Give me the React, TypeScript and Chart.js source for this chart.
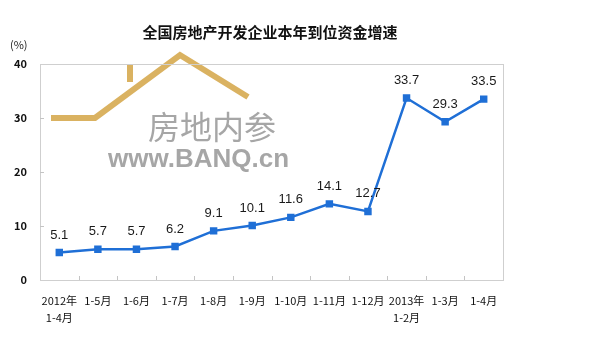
import React, { useEffect, useRef } from "react";
import { Chart, registerables } from "chart.js";

Chart.register(...registerables);

const categories: (string | string[])[] = [
  ["2012年", "1-4月"], "1-5月", "1-6月", "1-7月", "1-8月", "1-9月",
  "1-10月", "1-11月", "1-12月", ["2013年", "1-2月"], "1-3月", "1-4月",
];
const growth: number[] = [5.1, 5.7, 5.7, 6.2, 9.1, 10.1, 11.6, 14.1, 12.7, 33.7, 29.3, 33.5];
const yTicks: number[] = [0, 10, 20, 30, 40];
const titleText = "全国房地产开发企业本年到位资金增速";
const unitText = "(%)";

const FONT = "'Noto Sans CJK SC', 'Noto Sans', sans-serif";

export default function App() {
  const ref = useRef<HTMLCanvasElement | null>(null);
  useEffect(() => {
    document.body.style.margin = "0";
    const canvas = ref.current!;
    const decor = {
      id: "decor",
      beforeDatasetsDraw(chart: any) {
        const { ctx } = chart;
        ctx.save();
        // watermark house
        ctx.strokeStyle = "rgba(214,170,80,0.9)";
        ctx.lineWidth = 6;
        ctx.lineJoin = "miter";
        ctx.beginPath();
        ctx.moveTo(51, 118);
        ctx.lineTo(95, 118);
        ctx.lineTo(180, 55);
        ctx.lineTo(248, 97);
        ctx.stroke();
        ctx.beginPath();
        ctx.moveTo(130, 65);
        ctx.lineTo(130, 82);
        ctx.stroke();
        ctx.fillStyle = "rgba(150,150,150,0.85)";
        ctx.font = `32px ${FONT}`;
        ctx.textAlign = "left";
        ctx.textBaseline = "middle";
        ctx.fillText("房地内参", 148, 127);
        ctx.font = `bold 26px Arial, 'Liberation Sans', sans-serif`;
        ctx.fillText("www.BANQ.cn", 108, 160);
        ctx.restore();
      },
      afterDraw(chart: any) {
        const { ctx, chartArea: a, scales } = chart;
        ctx.save();
        ctx.strokeStyle = "#cfcfcf";
        ctx.lineWidth = 1;
        ctx.strokeRect(a.left + 0.5, a.top + 0.5, a.right - a.left, a.bottom - a.top);
        // inward tick marks
        ctx.strokeStyle = "#c4c4c4";
        const xs = scales.x;
        const half = (xs.getPixelForValue(1) - xs.getPixelForValue(0)) / 2;
        ctx.beginPath();
        for (let i = 0; i < categories.length - 1; i++) {
          const px = Math.round(xs.getPixelForValue(i) + half) + 0.5;
          ctx.moveTo(px, a.bottom);
          ctx.lineTo(px, a.bottom - 4);
        }
        const ys = scales.y;
        yTicks.slice(1, -1).forEach((v) => {
          const py = Math.round(ys.getPixelForValue(v)) + 0.5;
          ctx.moveTo(a.left, py);
          ctx.lineTo(a.left + 4, py);
        });
        ctx.stroke();
        // y tick labels
        ctx.fillStyle = "#111";
        ctx.font = `bold 11px ${FONT}`;
        ctx.textAlign = "right";
        ctx.textBaseline = "middle";
        yTicks.forEach((v) => {
          ctx.fillText(String(v), a.left - 13, ys.getPixelForValue(v));
        });
        ctx.font = `bold 15px ${FONT}`;
        ctx.textAlign = "center";
        ctx.fillText(titleText, 270, 32);
        ctx.font = `11px ${FONT}`;
        ctx.fillStyle = "#222";
        ctx.textAlign = "left";
        ctx.fillText(unitText, 10, 45);
        // data labels
        const meta = chart.getDatasetMeta(0);
        ctx.font = `13px Arial, 'Liberation Sans', sans-serif`;
        ctx.textAlign = "center";
        ctx.textBaseline = "bottom";
        ctx.fillStyle = "#1a1a1a";
        meta.data.forEach((pt: any, i: number) => {
          ctx.fillText(growth[i].toFixed(1), pt.x, pt.y - 11);
        });
        ctx.restore();
      },
    };
    const chart = new Chart(canvas, {
      type: "line",
      data: {
        labels: categories,
        datasets: [
          {
            data: growth,
            borderColor: "#1f6fd6",
            backgroundColor: "#1f6fd6",
            borderWidth: 2.5,
            pointStyle: "rect",
            pointRadius: 3.5,
            tension: 0,
          },
        ],
      },
      options: {
        responsive: false,
        animation: false,
        layout: { padding: { left: 0, right: 97, top: 64, bottom: 0 } },
        plugins: { legend: { display: false }, tooltip: { enabled: false }, title: { display: false } },
        scales: {
          x: {
            offset: true,
            grid: { display: false, drawTicks: false },
            border: { display: false },
            ticks: { color: "#111", font: { family: FONT, size: 11, lineHeight: 1.5 }, maxRotation: 0, autoSkip: false, padding: 13 },
            afterFit(s: any) { s.height = 58; },
          },
          y: {
            min: 0,
            max: 40,
            afterBuildTicks(s: any) { s.ticks = yTicks.map((v) => ({ value: v })); },
            grid: { display: false, drawTicks: false },
            border: { display: false },
            ticks: { display: false },
            afterFit(s: any) { s.width = 40; },
          },
        },
      },
      plugins: [decor],
    });
    return () => chart.destroy();
  }, []);
  return (
    <div style={{ width: 600, height: 338, background: "#fff" }}>
      <canvas ref={ref} width={600} height={338} />
    </div>
  );
}
